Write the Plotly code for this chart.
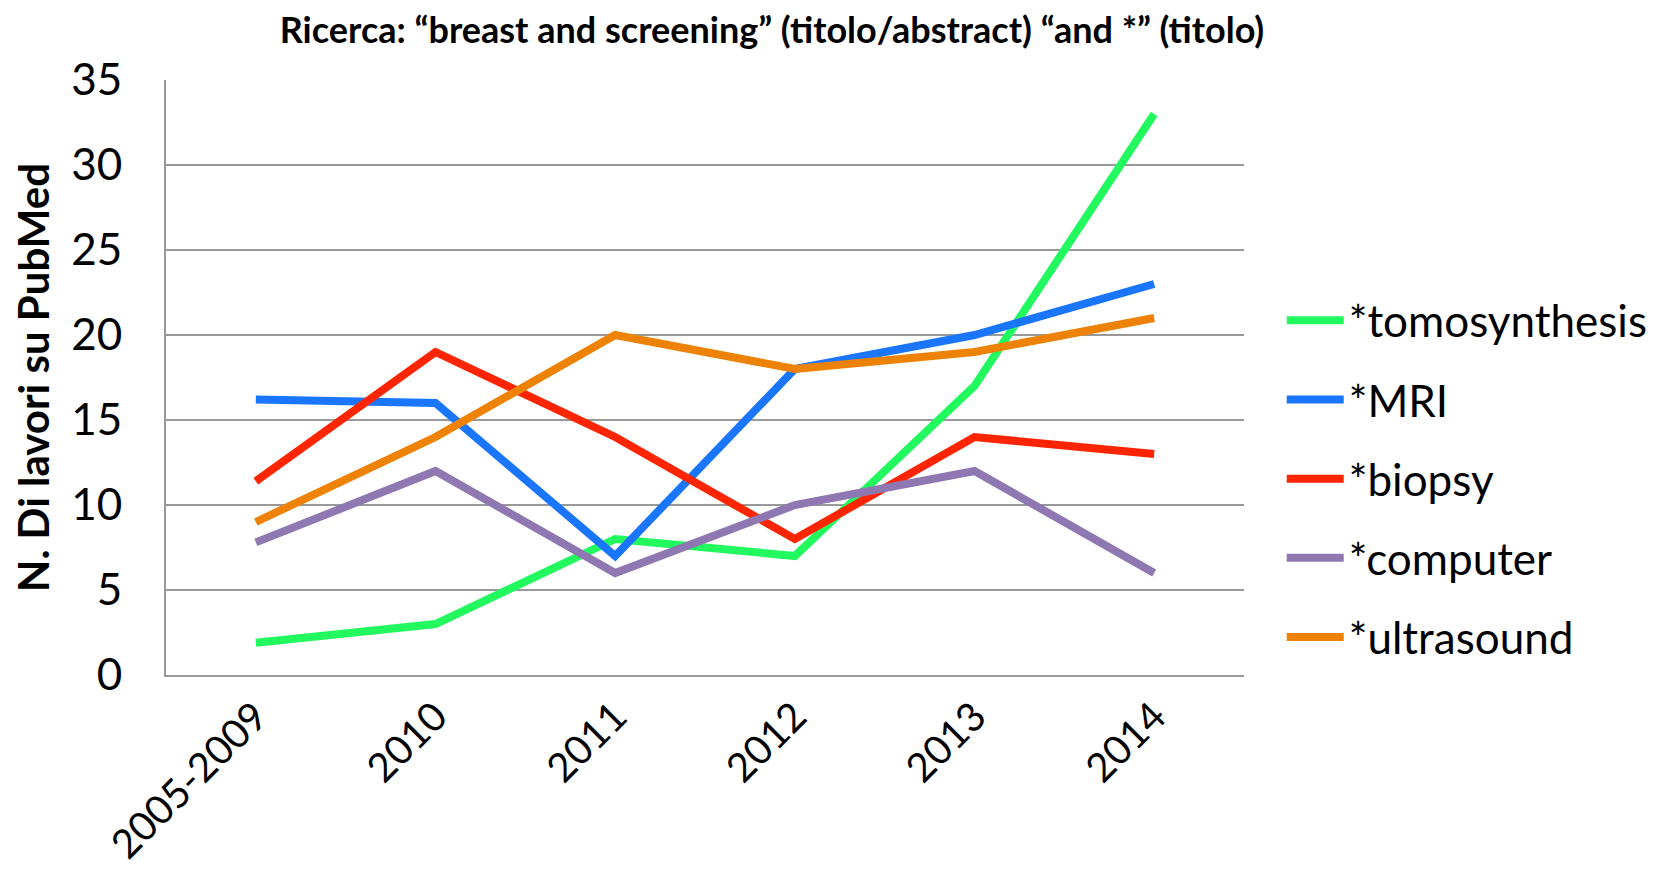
import plotly.graph_objects as go

categories = ["2005-2009", "2010", "2011", "2012", "2013", "2014"]
tomosynthesis = [1.9, 3, 8, 7, 17, 33]
mri = [16.2, 16, 7, 18, 20, 23]
biopsy = [11.4, 19, 14, 8, 14, 13]
computer = [7.8, 12, 6, 10, 12, 6]
ultrasound = [9, 14, 20, 18, 19, 21]

series = [
    ("*tomosynthesis", tomosynthesis, "#22F95E"),
    ("*MRI", mri, "#1A76FF"),
    ("*biopsy", biopsy, "#FF2500"),
    ("*computer", computer, "#8F78B2"),
    ("*ultrasound", ultrasound, "#EE8205"),
]

fig = go.Figure()
for name, vals, col in series:
    fig.add_trace(go.Scatter(x=categories, y=vals, name=name, mode="lines",
                             legendgroup=name,
                             line=dict(color=col, width=8)))

font = "Lato, 'Open Sans', sans-serif"
fig.update_layout(
    width=1668, height=888,
    paper_bgcolor="white", plot_bgcolor="white",
    margin=dict(l=158, r=432, t=72, b=221),
    font=dict(family=font, color="black"),
    title=dict(text="<b>Ricerca: “breast and screening” (titolo/abstract) “and *” (titolo)</b>",
               x=0.458, xanchor="center", y=0.975, yanchor="middle",
               font=dict(size=36, family=font)),
    showlegend=True,
    legend=dict(x=1.035, xanchor="left", y=0.33, yanchor="middle",
                font=dict(size=44, family=font), tracegroupgap=19,
                itemwidth=57,
                bgcolor="rgba(0,0,0,0)"),
    xaxis=dict(type="category", tickangle=-45, tickfont=dict(size=40, family=font),
               range=[-0.5, 5.5],
               showline=True, linecolor="#999999", linewidth=2, showgrid=False,
               ticks=""),
    yaxis=dict(range=[0, 35], dtick=5, tickfont=dict(size=44, family=font),
               showgrid=True, gridcolor="#999999", gridwidth=2,
               showline=True, linecolor="#999999", linewidth=2, zeroline=False,
               ticks="", ticklabelstandoff=33,
               title=dict(text="<b>N. Di lavori su PubMed</b>", font=dict(size=42, family=font),
                          standoff=10)),
)
fig.write_html("out.html")
